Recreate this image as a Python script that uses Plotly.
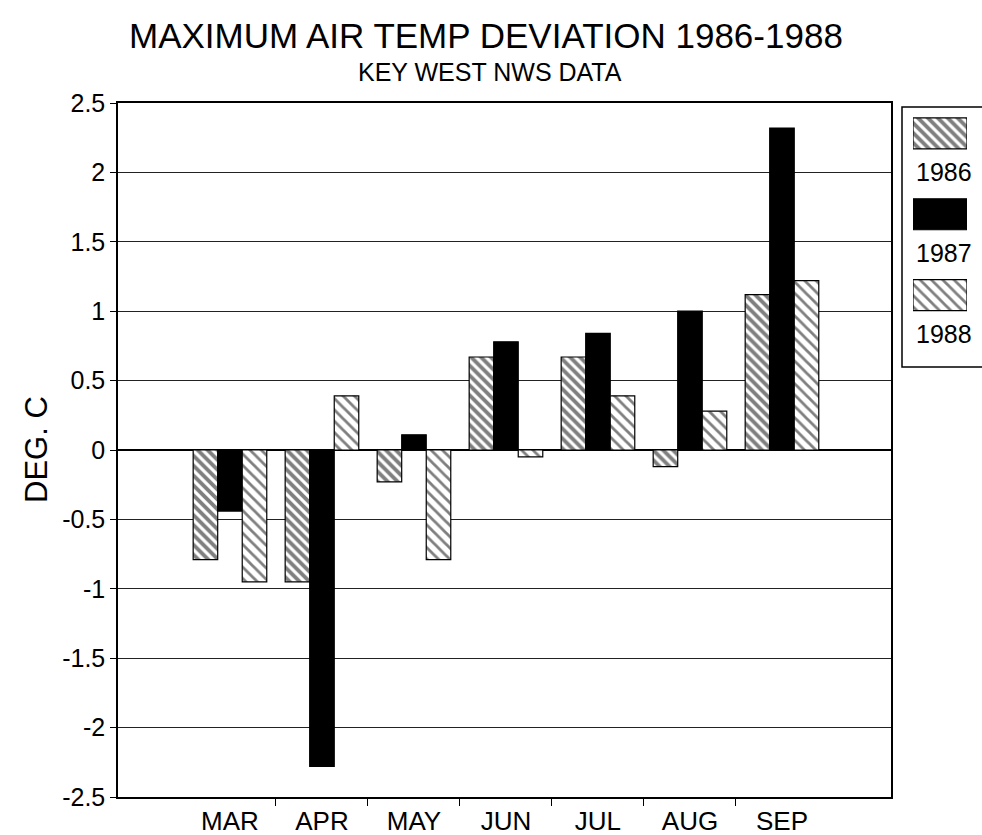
import plotly.graph_objects as go

# Monthly maximum air temperature deviation (deg C), Key West NWS
months = ["MAR", "APR", "MAY", "JUN", "JUL", "AUG", "SEP"]
years = ["1986", "1987", "1988"]
dev_1986 = [-0.79, -0.95, -0.23, 0.67, 0.67, -0.12, 1.12]
dev_1987 = [-0.44, -2.28, 0.11, 0.78, 0.84, 1.00, 2.32]
dev_1988 = [-0.95, 0.39, -0.79, -0.05, 0.39, 0.28, 1.22]
series = [dev_1986, dev_1987, dev_1988]

y_ticks = [-2.5, -2, -1.5, -1, -0.5, 0, 0.5, 1, 1.5, 2, 2.5]
y_ticktext = ["-2.5", "-2", "-1.5", "-1", "-0.5", "0", "0.5", "1", "1.5", "2", "2.5"]

FONT = "Liberation Sans, Arial, sans-serif"

# fill styles per year: dense dark hatch, solid black, light hatch
styles = [
    dict(color="white", pattern=dict(shape="\\", fgcolor="black", bgcolor="white",
                                     size=7, solidity=0.55)),
    dict(color="black"),
    dict(color="white", pattern=dict(shape="\\", fgcolor="black", bgcolor="white",
                                     size=8, solidity=0.35)),
]

x_idx = list(range(len(months)))

fig = go.Figure()
for name, vals, st in zip(years, series, styles):
    marker = dict(color=st["color"], line=dict(color="black", width=1.2))
    if "pattern" in st:
        marker["pattern"] = st["pattern"]
    fig.add_trace(go.Bar(x=x_idx, y=vals, name=name, marker=marker,
                         showlegend=False, xaxis="x", yaxis="y"))

# legend swatches drawn as bars on their own small axes
for i, (name, st) in enumerate(zip(years, styles)):
    marker = dict(color=st["color"], line=dict(color="black", width=1.2))
    if "pattern" in st:
        marker["pattern"] = st["pattern"]
    fig.add_trace(go.Bar(x=[1], y=[i], orientation="h", width=0.383, base=0,
                         marker=marker, showlegend=False, hoverinfo="skip",
                         xaxis="x2", yaxis="y2"))

W, H = 982, 835
ML, MR, MT, MB = 118, 0, 103, 38
pw = W - ML - MR
ph = H - MT - MB


def px_x(px):
    return (px - ML) / pw


def px_y(py):
    return (H - MB - py) / ph


annotations = [
    dict(text="MAXIMUM AIR TEMP DEVIATION 1986-1988", x=px_x(486), y=px_y(36),
         xref="paper", yref="paper", showarrow=False, xanchor="center", yanchor="middle",
         font=dict(family=FONT, size=35, color="black")),
    dict(text="KEY WEST NWS DATA", x=px_x(490), y=px_y(72),
         xref="paper", yref="paper", showarrow=False, xanchor="center", yanchor="middle",
         font=dict(family=FONT, size=25, color="black")),
    dict(text="DEG. C", x=px_x(36), y=px_y(450), textangle=-90,
         xref="paper", yref="paper", showarrow=False, xanchor="center", yanchor="middle",
         font=dict(family=FONT, size=31, color="black")),
]
for i, name in enumerate(years):
    annotations.append(dict(text=name, x=0.58, y=i + 0.48, xref="x2", yref="y2",
                            showarrow=False, xanchor="center", yanchor="middle",
                            font=dict(family=FONT, size=25, color="black")))

fig.update_layout(
    width=W, height=H,
    margin=dict(l=ML, r=MR, t=MT, b=MB),
    paper_bgcolor="white", plot_bgcolor="white",
    barmode="group", bargap=0.2, bargroupgap=0,
    font=dict(family=FONT, color="black"),
    xaxis=dict(
        domain=[0, px_x(891)], range=[-1.217, 7.185],
        tickmode="array", tickvals=x_idx, ticktext=months, ticks="",
        tickfont=dict(family=FONT, size=26, color="black"),
        showgrid=False, zeroline=False,
        showline=True, linecolor="black", linewidth=1.5, mirror=True,
        minor=dict(tickmode="array", tickvals=[i + 0.5 for i in x_idx[:-1]],
                   ticks="outside", ticklen=7, tickcolor="black", tickwidth=1,
                   showgrid=False),
    ),
    yaxis=dict(
        domain=[0, 1], range=[-2.5, 2.5],
        tickmode="array", tickvals=y_ticks, ticktext=y_ticktext,
        ticks="outside", ticklen=6, tickcolor="black", tickwidth=1,
        tickfont=dict(family=FONT, size=25, color="black"),
        showgrid=True, gridcolor="#222222", gridwidth=1,
        zeroline=True, zerolinecolor="black", zerolinewidth=1.5,
        showline=True, linecolor="black", linewidth=1.5, mirror=True,
    ),
    xaxis2=dict(domain=[px_x(913), px_x(967)], range=[0, 1], anchor="y2",
                visible=False, fixedrange=True),
    yaxis2=dict(domain=[px_y(336), 1.0], range=[2.506, -0.3765], anchor="x2",
                visible=False, fixedrange=True),
    shapes=[dict(type="rect", xref="paper", yref="paper",
                 x0=px_x(902), x1=1.05, y0=px_y(367), y1=px_y(107),
                 line=dict(color="black", width=1.5), fillcolor="rgba(0,0,0,0)",
                 layer="below")],
    annotations=annotations,
)

fig.write_html("out.html")
